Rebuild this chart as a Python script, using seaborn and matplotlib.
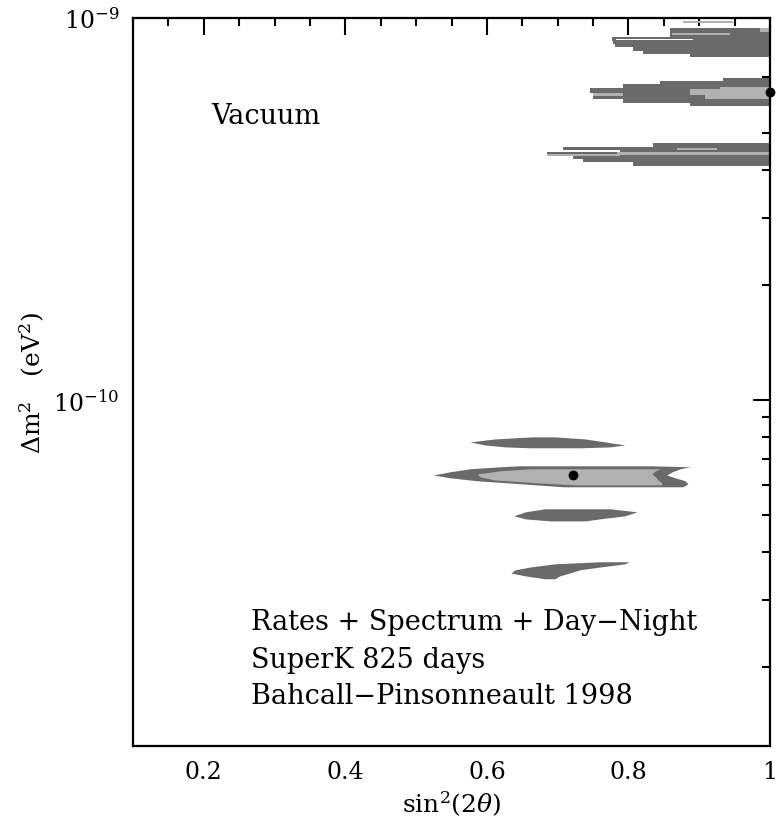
import numpy as np
import matplotlib
matplotlib.use("Agg")
import matplotlib.pyplot as plt
import matplotlib.ticker as mticker
import seaborn as sns

sns.set_theme(style="white")
plt.rcParams['font.family'] = ['DejaVu Serif', 'DejaVu Sans']
plt.rcParams['mathtext.fontset'] = 'dejavuserif'
plt.rcParams['text.color'] = 'black'
plt.rcParams['axes.labelcolor'] = 'black'

DARK = "#6a6a6a"
LIGHT = "#b1b1b1"
SCALE = 1e-10  # dm2 values below are in units of 1e-10 eV^2

# --- lower islands: dm2 rows with left / right sin^2(2theta) ---
isl_a_dm2 = [0.800, 0.790, 0.776, 0.762, 0.753, 0.749]
isl_a_left = [0.664, 0.611, 0.576, 0.597, 0.626, 0.661]
isl_a_right = [0.696, 0.739, 0.767, 0.795, 0.774, 0.732]

isl_b_dm2 = [0.672, 0.668, 0.660, 0.648, 0.636, 0.625, 0.614, 0.603, 0.592]
isl_b_left = [0.647, 0.619, 0.576, 0.548, 0.524, 0.548, 0.586, 0.647, 0.708]
isl_b_right = [0.830, 0.887, 0.873, 0.862, 0.854, 0.866, 0.880, 0.884, 0.877]

isl_b_in_dm2 = [0.660, 0.652, 0.640, 0.629, 0.617, 0.606, 0.599]
isl_b_in_left = [0.661, 0.619, 0.587, 0.590, 0.611, 0.675, 0.725]
isl_b_in_right = [0.845, 0.838, 0.833, 0.838, 0.842, 0.847, 0.847]

isl_c_dm2 = [0.5185, 0.509, 0.497, 0.488, 0.482]
isl_c_left = [0.682, 0.654, 0.638, 0.654, 0.689]
isl_c_right = [0.774, 0.812, 0.795, 0.760, 0.739]

isl_d_dm2 = [0.3767, 0.372, 0.365, 0.359, 0.352, 0.346, 0.340]
isl_d_left = [0.760, 0.696, 0.661, 0.640, 0.634, 0.654, 0.682]
isl_d_right = [0.801, 0.795, 0.760, 0.732, 0.717, 0.703, 0.696]

# --- upper islands near maximal mixing (ragged rows), right edge at 1 ---
top_dm2 = [9.41, 8.92, 8.71, 8.55, 8.39, 8.20, 8.05, 7.91]
top_left = [0.859, 0.777, 0.778, 0.781, 0.806, 0.820, 0.887, 0.887]

mid_dm2 = [6.97, 6.84, 6.72, 6.56, 6.36, 6.14, 5.99, 5.88]
mid_left = [0.934, 0.845, 0.792, 0.746, 0.750, 0.792, 0.887, 0.887]
mid_in_dm2 = [6.60, 6.52, 6.29, 6.14]
mid_in_left = [0.929, 0.887, 0.908, 0.908]

low_dm2 = [4.71, 4.59, 4.51, 4.46, 4.35, 4.28, 4.20, 4.10]
low_left = [0.835, 0.708, 0.788, 0.685, 0.722, 0.736, 0.806, 0.806]

# light streaks inside the upper islands: (dm2 top, dm2 bottom, x left, x right)
streak_top = [9.82, 9.14, 9.41, 6.36, 4.57, 4.46, 4.41]
streak_bot = [9.70, 9.03, 9.19, 6.25, 4.51, 4.38, 4.35]
streak_left = [0.877, 0.862, 0.986, 0.750, 0.869, 0.784, 0.685]
streak_right = [0.948, 0.944, 1.000, 0.792, 0.925, 1.000, 0.788]

# thin white gaps between the fingers
gap_top = [8.80, 4.63]
gap_bot = [8.74, 4.60]
gap_left = [0.782, 0.712]
gap_right = [0.891, 0.800]

best_x = [0.722, 1.0]
best_dm2 = [0.636, 6.40]

fig, ax = plt.subplots(figsize=(7.78, 8.28), dpi=100)
fig.subplots_adjust(left=0.171, right=0.9897, bottom=0.0978, top=0.977)


def smooth(dm2, left, right, color):
    y = np.array(dm2) * SCALE
    ax.fill_betweenx(y, left, right, color=color, lw=0)


def steps(dm2, left, color, right=1.0):
    y = np.array(dm2) * SCALE
    ax.fill_betweenx(y, left, right, step='post', color=color, lw=0)


smooth(isl_a_dm2, isl_a_left, isl_a_right, DARK)
smooth(isl_b_dm2, isl_b_left, isl_b_right, DARK)
smooth(isl_b_in_dm2, isl_b_in_left, isl_b_in_right, LIGHT)
smooth(isl_c_dm2, isl_c_left, isl_c_right, DARK)
smooth(isl_d_dm2, isl_d_left, isl_d_right, DARK)

steps(top_dm2, top_left, DARK)
steps(mid_dm2, mid_left, DARK)
steps(mid_in_dm2, mid_in_left, LIGHT)
steps(low_dm2, low_left, DARK)
for t, b, l, r in zip(streak_top, streak_bot, streak_left, streak_right):
    ax.fill_betweenx(np.array([t, b]) * SCALE, l, r, color=LIGHT, lw=0)
for t, b, l, r in zip(gap_top, gap_bot, gap_left, gap_right):
    ax.fill_betweenx(np.array([t, b]) * SCALE, l, r, color="white", lw=0)

sns.scatterplot(x=best_x, y=np.array(best_dm2) * SCALE, color="black", s=50,
                edgecolor="black", linewidth=0, ax=ax, zorder=5, clip_on=False)

ax.set_yscale("log")
ax.set_xlim(0.1, 1.0)
ax.set_ylim(1.24e-11, 1e-9)

ax.xaxis.set_major_locator(mticker.MultipleLocator(0.2))
ax.xaxis.set_minor_locator(mticker.MultipleLocator(0.05))
ax.xaxis.set_major_formatter(mticker.FuncFormatter(lambda v, p: "1" if abs(v - 1) < 1e-6 else f"{v:.1f}"))
ax.yaxis.set_major_locator(mticker.LogLocator(base=10))
ax.yaxis.set_minor_locator(mticker.LogLocator(base=10, subs=np.arange(2, 10)))
ax.yaxis.set_minor_formatter(mticker.NullFormatter())

ax.tick_params(which="both", direction="in", top=True, right=True, width=1.5,
               labelsize=17, colors="black")
ax.tick_params(which="major", length=12, pad=10)
ax.tick_params(which="minor", length=6)
for s in ax.spines.values():
    s.set_linewidth(1.6)
    s.set_color("black")

ax.set_xlabel(r"sin$^2$(2$\theta$)", fontsize=18, labelpad=4)
ax.set_ylabel(r"$\Delta$m$^2$   (eV$^2$)", fontsize=18, labelpad=4)

ax.text(0.21, 5.3e-10, "Vacuum", fontsize=19.5)
ax.text(0.267, 2.51e-11, "Rates + Spectrum + Day\u2212Night", fontsize=19.5)
ax.text(0.267, 2.0e-11, "SuperK 825 days", fontsize=19.5)
ax.text(0.267, 1.61e-11, "Bahcall\u2212Pinsonneault 1998", fontsize=19.5)

fig.savefig("out.png", dpi=100)
